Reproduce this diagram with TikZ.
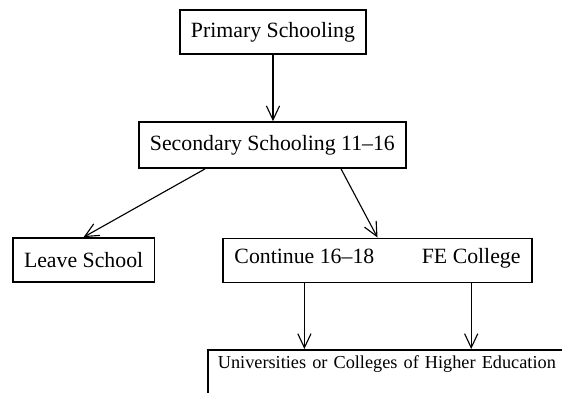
\documentclass[tikz,border=0pt]{standalone}
\usepackage{fontspec}
\setmainfont{Liberation Serif}
\usetikzlibrary{arrows.meta,calc,fit}

\begin{document}
\begin{tikzpicture}[
  every node/.style={align=center, inner sep=2pt},
  stage/.style={rectangle, draw=black, line width=1.2pt,
                minimum height=1.1cm, inner xsep=0.28cm,
                font=\fontsize{15.5}{18}\selectfont},
  plain/.style={inner sep=0pt, text height=1.6ex, text depth=0.5ex,
                font=\fontsize{15.5}{18}\selectfont},
  link/.style={-{Straight Barb[length=0.35cm,width=0.33cm]}, line width=0.8pt}
]
% FRAME (the bottom box runs off the page)
\useasboundingbox (0,0) rectangle (14.05,-9.825);
\clip (0,0) rectangle (14.05,-9.825);

% ROW 1: PRIMARY
\node[stage] (prim) at (6.825,-0.8) {Primary Schooling};

% ROW 2: SECONDARY
\node[stage, minimum height=1.15cm] (sec) at (6.81,-3.625) {Secondary Schooling 11--16};

% ROW 3: AFTER 16
\node[stage] (leave) at (2.09,-6.5) {Leave School};
\node[plain] (cont) at (7.61,-6.51) {Continue 16--18};
\node[plain] (fe) at (11.78,-6.51) {FE College};
\node[stage, fit=(cont)(fe)] (post) {};

% ROW 4: HIGHER EDUCATION
\node[stage, anchor=north west, align=left, text width=12cm, text depth=2cm,
      minimum height=0pt, inner xsep=0.25cm, inner ysep=0.15cm,
      font=\fontsize{13}{16}\selectfont] (univ) at (5.175,-8.725)
      {Universities or Colleges of Higher Education};

% ARROWS
\draw[link] (prim.south) -- (prim.south |- sec.north);
\draw[link] ($(sec.south west)!0.25!(sec.south east)$) -- (leave.north);
\draw[link] ($(sec.south west)!0.755!(sec.south east)$) -- (post.north);
\draw[link] (cont.south |- post.south) -- (cont.south |- univ.north);
\draw[link] (fe.south |- post.south) -- (fe.south |- univ.north);
\end{tikzpicture}
\end{document}
